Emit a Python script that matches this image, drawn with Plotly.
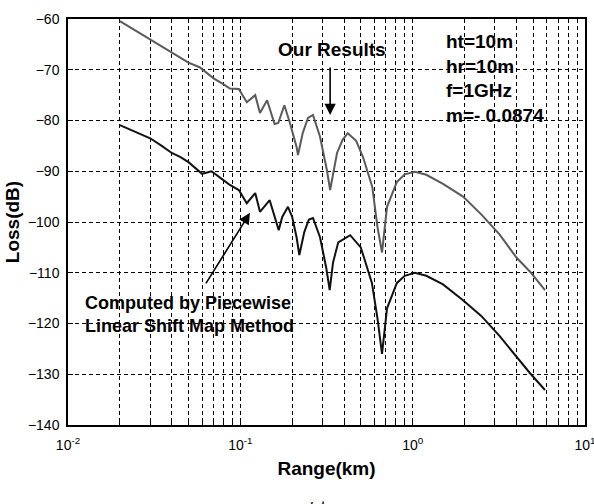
import plotly.graph_objects as go

# Range (km) and Loss (dB)
x_our = [0.02, 0.03, 0.04, 0.05, 0.058, 0.07, 0.08, 0.087, 0.098, 0.109, 0.122, 0.13, 0.143,
         0.158, 0.166, 0.18, 0.194, 0.212, 0.216, 0.23, 0.247, 0.264, 0.29, 0.318, 0.332,
         0.364, 0.392, 0.42, 0.47, 0.515, 0.583, 0.625, 0.664, 0.71, 0.81, 0.9, 1.03, 1.2,
         1.5, 1.96, 2.5, 3.2, 4.0, 4.8, 5.86]
y_our = [-60.4, -64.0, -66.6, -68.6, -69.5, -71.7, -72.9, -73.7, -73.8, -76.4, -75.0, -78.5, -76.0,
         -80.7, -80.5, -77.0, -80.5, -85.2, -86.8, -82.5, -79.5, -78.9, -83.2, -89.8, -93.7,
         -86.4, -83.8, -82.5, -84.0, -87.2, -93.1, -101.0, -106.0, -97.0, -92.1, -90.6, -90.1, -90.7,
         -92.5, -95.0, -98.5, -102.5, -107.0, -109.8, -113.4]

x_pw = [0.02, 0.025, 0.03, 0.035, 0.04, 0.045, 0.05, 0.06, 0.068, 0.078, 0.087, 0.098, 0.109,
        0.122, 0.13, 0.148, 0.167, 0.175, 0.189, 0.2, 0.212, 0.22, 0.235, 0.25, 0.264, 0.29,
        0.315, 0.33, 0.345, 0.37, 0.434, 0.5, 0.58, 0.625, 0.664, 0.71, 0.81, 0.9, 1.03, 1.2,
        1.5, 1.96, 2.5, 3.2, 4.0, 4.8, 5.86]
y_pw = [-80.9, -82.3, -83.5, -85.0, -86.4, -87.2, -88.2, -90.5, -90.0, -91.5, -92.7, -93.7, -96.3,
        -94.3, -98.0, -95.7, -101.6, -99.0, -97.0, -99.0, -103.0, -106.5, -102.0, -99.5, -99.2, -103.0,
        -109.0, -113.4, -108.0, -104.0, -102.6, -105.0, -112.0, -119.0, -126.0, -117.0, -112.0, -110.6, -110.0, -110.6,
        -112.3, -115.4, -118.5, -122.5, -126.5, -129.8, -133.1]

x_tickvals = [0.01, 0.1, 1, 10]
x_ticktext = ["10<sup>-2</sup>", "10<sup>-1</sup>", "10<sup>0</sup>", "10<sup>1</sup>"]
y_tickvals = [-140, -130, -120, -110, -100, -90, -80, -70, -60]

FONT = "Liberation Sans, Arial, sans-serif"

fig = go.Figure()
fig.add_trace(go.Scatter(x=x_our, y=y_our, mode="lines",
                         line=dict(color="#5a5a5a", width=2), showlegend=False))
fig.add_trace(go.Scatter(x=x_pw, y=y_pw, mode="lines",
                         line=dict(color="#111111", width=2), showlegend=False))

grid = dict(showgrid=True, gridcolor="black", gridwidth=1, griddash="4px,3px")

fig.update_layout(
    width=594, height=504,
    margin=dict(l=68, r=9, t=19, b=79),
    paper_bgcolor="white", plot_bgcolor="white",
    font=dict(family=FONT, size=14, color="black"),
    xaxis=dict(type="log", range=[-2, 1], tickvals=x_tickvals, ticktext=x_ticktext,
               automargin=False, ticklabeloverflow="allow",
               showline=True, linecolor="black", linewidth=1.5, mirror=True,
               ticks="inside", ticklen=5, tickcolor="black", ticklabelstandoff=6,
               minor=dict(dtick="D1", showgrid=True, gridcolor="black", gridwidth=1,
                          griddash="4px,3px", ticks="inside", ticklen=3, tickcolor="black"),
               title=dict(text="<b>Range(km)</b>", font=dict(size=19), standoff=10),
               zeroline=False, **grid),
    yaxis=dict(range=[-140, -60], tickvals=y_tickvals, automargin=False,
               showline=True, linecolor="black", linewidth=1.5, mirror=True,
               ticks="inside", ticklen=5, tickcolor="black", ticklabelstandoff=4,
               title=dict(text="<b>Loss(dB)</b>", font=dict(size=19), standoff=3),
               zeroline=False, **grid),
)

fig.add_annotation(x=-0.479, y=-78.9, xref="x", yref="y", ax=0, ay=-49,
                   showarrow=True, arrowhead=2, arrowsize=1.4, arrowwidth=1.6, arrowcolor="black",
                   text="")
fig.add_annotation(x=-0.479, y=-66.1, xref="x", yref="y", text="<b>Our Results</b>",
                   showarrow=False, font=dict(size=19), xanchor="center", yanchor="middle",
                   xshift=2)
fig.add_annotation(x=-0.944, y=-98.2, xref="x", yref="y", ax=-45, ay=72,
                   showarrow=True, arrowhead=2, arrowsize=1.4, arrowwidth=1.6, arrowcolor="black",
                   text="")
fig.add_annotation(x=-1.914, y=-113.5, xref="x", yref="y",
                   text="<b>Computed by Piecewise<br>Linear Shift Map Method</b>",
                   showarrow=False, font=dict(size=18), xanchor="left", yanchor="top", align="left")
fig.add_annotation(x=0.182, y=-62.0, xref="x", yref="y",
                   text="<b>ht=10m<br>hr=10m<br>f=1GHz<br>m=- 0.0874</b>",
                   showarrow=False, font=dict(size=19), xanchor="left", yanchor="top", align="left")
fig.add_annotation(xref="paper", yref="paper", x=(317 - 68) / 517, y=(425 - 501) / 406,
                   yanchor="middle", text="ب", showarrow=False,
                   font=dict(size=16, family="DejaVu Sans"))

fig.write_html("out.html")
